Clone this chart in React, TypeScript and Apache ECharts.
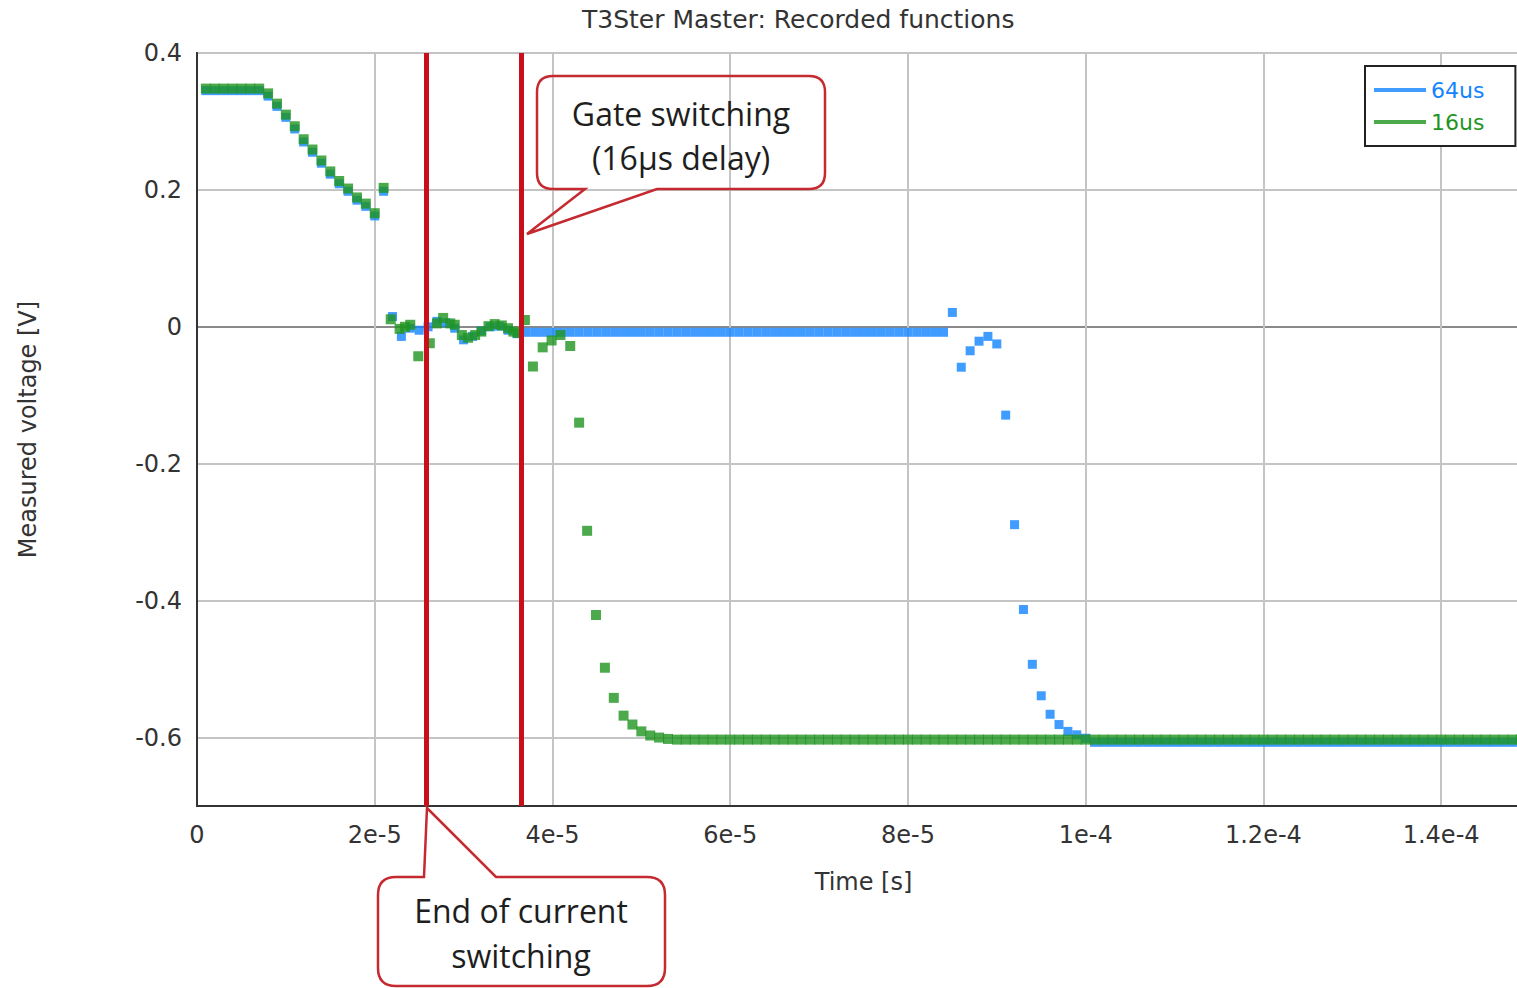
import React, { useEffect, useRef } from "react";
import * as echarts from "echarts";

const TITLE = "T3Ster Master: Recorded functions";
const X_NAME = "Time [s]";
const Y_NAME = "Measured voltage [V]";
const xTickValues = [0, 20, 40, 60, 80, 100, 120, 140];
const xTickLabels = ["0", "2e-5", "4e-5", "6e-5", "8e-5", "1e-4", "1.2e-4", "1.4e-4"];
const yTickValues = [-0.6, -0.4, -0.2, 0, 0.2, 0.4];
const yTickLabels = ["-0.6", "-0.4", "-0.2", "0", "0.2", "0.4"];
const seriesNames = ["64us", "16us"];
const switchTimes = [25.8, 36.5]; // microseconds
const callout1Lines = ["Gate switching", "(16µs delay)"];
const callout2Lines = ["End of current", "switching"];

// 64us series: time (µs) and voltage (V)
const t64 = [
  1, 2, 3, 4, 5, 6, 7, 8, 9, 10, 11, 12, 13, 14, 15, 16, 17, 18, 19, 20, 21, 22, 23, 24, 25,
  26, 27, 28, 29, 30, 31, 32, 33, 34, 35, 36, 37, 38, 39, 40, 41, 42, 43, 44, 45, 46, 47, 48, 49, 50,
  51, 52, 53, 54, 55, 56, 57, 58, 59, 60, 61, 62, 63, 64, 65, 66, 67, 68, 69, 70, 71, 72, 73, 74, 75,
  76, 77, 78, 79, 80, 81, 82, 83, 84, 85, 86, 87, 88, 89, 90, 91, 92, 93, 94, 95, 96, 97, 98, 99, 100,
  101, 102, 103, 104, 105, 106, 107, 108, 109, 110, 111, 112, 113, 114, 115, 116, 117, 118, 119, 120, 121, 122, 123, 124, 125,
  126, 127, 128, 129, 130, 131, 132, 133, 134, 135, 136, 137, 138, 139, 140, 141, 142, 143, 144, 145, 146, 147, 148, 149, 150,
];
const v64 = [
  0.345, 0.345, 0.345, 0.345, 0.345, 0.345, 0.345,
  0.337, 0.322, 0.306, 0.289, 0.27, 0.255, 0.239, 0.223, 0.209, 0.198, 0.185, 0.176, 0.162, 0.198,
  0.015, -0.014, -0.002, -0.005, 0.0, 0.008, 0.006, -0.002, -0.019, -0.014, -0.006, 0.0, 0.001, -0.005, -0.01,
  -0.008, -0.008, -0.008, -0.008, -0.008, -0.008, -0.008, -0.008, -0.008, -0.008, -0.008, -0.008,
  -0.008, -0.008, -0.008, -0.008, -0.008, -0.008, -0.008, -0.008, -0.008, -0.008, -0.008, -0.008,
  -0.008, -0.008, -0.008, -0.008, -0.008, -0.008, -0.008, -0.008, -0.008, -0.008, -0.008, -0.008,
  -0.008, -0.008, -0.008, -0.008, -0.008, -0.008, -0.008, -0.008, -0.008, -0.008, -0.008, -0.008,
  0.021, -0.059, -0.035, -0.021, -0.014, -0.025, -0.129, -0.289, -0.413, -0.493, -0.539, -0.566, -0.581, -0.591, -0.596, -0.601,
  -0.607, -0.607, -0.607, -0.607, -0.607, -0.607, -0.607, -0.607, -0.607, -0.607,
  -0.607, -0.607, -0.607, -0.607, -0.607, -0.607, -0.607, -0.607, -0.607, -0.607,
  -0.607, -0.607, -0.607, -0.607, -0.607, -0.607, -0.607, -0.607, -0.607, -0.607,
  -0.607, -0.607, -0.607, -0.607, -0.607, -0.607, -0.607, -0.607, -0.607, -0.607,
  -0.607, -0.607, -0.607, -0.607, -0.607, -0.607, -0.607, -0.607, -0.607, -0.607,
];

// 16us series: time (µs) and voltage (V)
const t16 = [
  1, 2, 3, 4, 5, 6, 7, 8, 9, 10, 11, 12, 13, 14, 15, 16, 17, 18, 19, 20, 21,
  21.8, 22.8, 23.4, 24.0, 24.9, 26.2, 27.0, 27.7, 28.5, 29.0, 29.8, 30.5, 31.3, 32.0, 32.8, 33.5, 34.3, 35.0, 35.6, 36.1,
  36.9, 37.8, 38.9, 39.9, 40.9, 42.0,
  43, 43.9, 44.9, 45.9, 46.9, 48, 49, 50, 51, 52, 53,
  54, 55, 56, 57, 58, 59, 60, 61, 62, 63, 64, 65, 66, 67, 68, 69, 70, 71, 72, 73, 74, 75,
  76, 77, 78, 79, 80, 81, 82, 83, 84, 85, 86, 87, 88, 89, 90, 91, 92, 93, 94, 95, 96, 97, 98, 99, 100,
  101, 102, 103, 104, 105, 106, 107, 108, 109, 110, 111, 112, 113, 114, 115, 116, 117, 118, 119, 120, 121, 122, 123, 124, 125,
  126, 127, 128, 129, 130, 131, 132, 133, 134, 135, 136, 137, 138, 139, 140, 141, 142, 143, 144, 145, 146, 147, 148, 149, 150,
];
const v16 = [
  0.348, 0.348, 0.348, 0.348, 0.348, 0.348, 0.348,
  0.341, 0.326, 0.31, 0.293, 0.274, 0.259, 0.243, 0.227, 0.213, 0.202, 0.189, 0.18, 0.166, 0.203,
  0.011, -0.003, 0.0, 0.003, -0.043, -0.024, 0.005, 0.013, 0.005, 0.003, -0.012, -0.016, -0.012, -0.007, 0.001, 0.004, 0.002, -0.002, -0.007, -0.009,
  0.01, -0.058, -0.03, -0.02, -0.012, -0.028,
  -0.14, -0.298, -0.421, -0.498, -0.542, -0.568, -0.581, -0.591, -0.597, -0.6, -0.602,
  -0.603, -0.603, -0.603, -0.603, -0.603, -0.603, -0.603, -0.603, -0.603, -0.603,
  -0.603, -0.603, -0.603, -0.603, -0.603, -0.603, -0.603, -0.603, -0.603, -0.603,
  -0.603, -0.603, -0.603, -0.603, -0.603, -0.603, -0.603, -0.603, -0.603, -0.603,
  -0.603, -0.603, -0.603, -0.603, -0.603, -0.603, -0.603, -0.603, -0.603, -0.603,
  -0.603, -0.603, -0.603, -0.603, -0.603, -0.603, -0.603, -0.603, -0.603, -0.603,
  -0.603, -0.603, -0.603, -0.603, -0.603, -0.603, -0.603, -0.603, -0.603, -0.603,
  -0.603, -0.603, -0.603, -0.603, -0.603, -0.603, -0.603, -0.603, -0.603, -0.603,
  -0.603, -0.603, -0.603, -0.603, -0.603, -0.603, -0.603, -0.603, -0.603, -0.603,
  -0.603, -0.603, -0.603, -0.603, -0.603, -0.603, -0.603, -0.603, -0.603, -0.603,
  -0.603, -0.603, -0.603, -0.603, -0.603, -0.603, -0.603,
];

const BLUE = "#1283ff";
const GREEN = "#1f951f";
const RED = "#c8101a";
const CALLOUT_RED = "#c42a30";
const FONT = "DejaVu Sans";

function zip(t: number[], v: number[]) {
  const n = Math.min(t.length, v.length);
  const out: number[][] = [];
  for (let i = 0; i < n; i++) out.push([t[i], v[i]]);
  return out;
}

const callout1Path =
  "M 553 76 H 809 Q 825 76 825 92 V 173 Q 825 189 809 189 H 657 L 527 234 L 585 189 H 553 Q 537 189 537 173 V 92 Q 537 76 553 76 Z";
const callout2Path =
  "M 396 877 H 424 L 427 808 L 496 877 H 647 Q 665 877 665 895 V 968 Q 665 986 647 986 H 396 Q 378 986 378 968 V 895 Q 378 877 396 877 Z";

echarts.graphic.registerShape("calloutGate", echarts.graphic.extendPath(callout1Path, {}));
echarts.graphic.registerShape("calloutEnd", echarts.graphic.extendPath(callout2Path, {}));

export default function App() {
  const ref = useRef<HTMLDivElement>(null);

  useEffect(() => {
    if (!ref.current) return;
    const chart = echarts.init(ref.current, undefined, { renderer: "svg" });

    const ySplitColors = [
      "transparent", "#c4c4c4", "transparent", "#c4c4c4", "transparent", "#c4c4c4",
      "transparent", "#8a8a8a", "transparent", "#c4c4c4", "transparent", "#c4c4c4",
    ];

    const calloutText = (lines: string[], cx: number, ys: number[]) =>
      lines.map((s, i) => ({
        type: "text",
        x: cx,
        y: ys[i],
        z: 101,
        style: {
          text: s,
          align: "center",
          verticalAlign: "middle",
          fontFamily: "Open Sans",
          fontSize: 32,
          fill: "#1e1e1e",
        },
      }));

    chart.setOption({
      animation: false,
      backgroundColor: "#fff",
      title: {
        text: TITLE,
        left: 582,
        top: 7,
        padding: 0,
        textStyle: { fontFamily: FONT, fontSize: 25, fontWeight: "normal", color: "#333" },
      },
      legend: {
        orient: "vertical",
        left: 1365,
        top: 66,
        padding: [12, 31, 12, 9],
        itemGap: 8,
        itemWidth: 52,
        itemHeight: 4,
        icon: "rect",
        borderColor: "#222",
        borderWidth: 2,
        backgroundColor: "#fff",
        textStyle: { fontFamily: FONT, fontSize: 22, lineHeight: 24 },
        data: [
          { name: seriesNames[0], textStyle: { color: BLUE } },
          { name: seriesNames[1], textStyle: { color: GREEN } },
        ],
      },
      grid: {
        left: 197,
        top: 53,
        right: 10,
        bottom: 182,
        show: true,
        borderColor: "#333",
        borderWidth: 2,
        backgroundColor: "transparent",
      },
      xAxis: {
        type: "value",
        min: 0,
        max: 150,
        interval: 20,
        name: X_NAME,
        nameLocation: "middle",
        nameGap: 64,
        nameTextStyle: { fontFamily: FONT, fontSize: 24, color: "#333" },
        axisLine: { show: true, onZero: false, lineStyle: { color: "#333", width: 2 } },
        axisTick: { show: false },
        axisLabel: {
          margin: 17,
          fontFamily: FONT,
          fontSize: 24,
          color: "#333",
          showMaxLabel: false,
          formatter: (v: number) => {
            const i = xTickValues.findIndex((x) => Math.abs(x - v) < 1e-6);
            return i >= 0 ? xTickLabels[i] : "";
          },
        },
        splitLine: { show: true, lineStyle: { color: "#c4c4c4", width: 2 } },
      },
      yAxis: {
        type: "value",
        min: -0.7,
        max: 0.4,
        interval: 0.1,
        name: Y_NAME,
        nameLocation: "middle",
        nameGap: 157,
        nameTextStyle: { fontFamily: FONT, fontSize: 24, color: "#333" },
        axisLine: { show: true, onZero: false, lineStyle: { color: "#333", width: 2 } },
        axisTick: { show: false },
        axisLabel: {
          margin: 15,
          fontFamily: FONT,
          fontSize: 24,
          color: "#333",
          formatter: (v: number) => {
            const i = yTickValues.findIndex((y) => Math.abs(y - v) < 1e-6);
            return i >= 0 ? yTickLabels[i] : "";
          },
        },
        splitLine: { show: true, lineStyle: { color: ySplitColors, width: 2 } },
      },
      series: [
        {
          name: seriesNames[0],
          type: "scatter",
          symbol: "rect",
          symbolSize: 9,
          itemStyle: { color: BLUE },
          data: zip(t64, v64),
          z: 3,
        },
        {
          name: seriesNames[1],
          type: "scatter",
          symbol: "rect",
          symbolSize: 10,
          itemStyle: { color: GREEN },
          data: zip(t16, v16),
          z: 4,
          markLine: {
            silent: true,
            symbol: "none",
            label: { show: false },
            lineStyle: { color: RED, width: 5, type: "solid" },
            data: switchTimes.map((t) => ({ xAxis: t })),
          },
        },
      ],
      graphic: [
        {
          type: "calloutGate",
          x: 0,
          y: 0,
          z: 100,
          style: { fill: "none", stroke: CALLOUT_RED, lineWidth: 2.5 },
        },
        {
          type: "calloutEnd",
          x: 0,
          y: 0,
          z: 100,
          style: { fill: "none", stroke: CALLOUT_RED, lineWidth: 2.5 },
        },
        ...calloutText(callout1Lines, 681, [113, 157]),
        ...calloutText(callout2Lines, 521, [910, 955]),
      ],
    });

    return () => chart.dispose();
  }, []);

  return (
    <div
      style={{
        position: "fixed",
        left: 0,
        top: 0,
        width: 1517,
        height: 988,
        overflow: "hidden",
        background: "#fff",
      }}
    >
      <div ref={ref} style={{ width: 1540, height: 988 }} />
    </div>
  );
}
